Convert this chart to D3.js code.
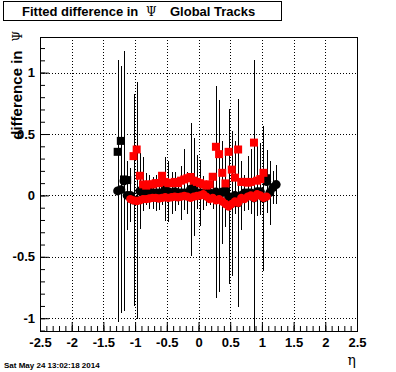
<!DOCTYPE html>
<html>
<head>
<meta charset="utf-8">
<script src="https://cdn.jsdelivr.net/npm/d3@7"></script>
<style>
body { margin: 0; background: #fff; }
text { font-family: "Liberation Sans", Arial, sans-serif; }
.tick text { font-weight: bold; font-size: 13px; fill: #000; }
.greek { font-family: "DejaVu Serif", "Liberation Serif", serif; font-weight: normal; }
</style>
</head>
<body>
<div class="graphic"></div>
<script>
// eta bin centres
var etaBins = [-1.275,-1.225,-1.175,-1.125,-1.075,-1.025,-0.975,-0.925,-0.875,-0.825,
    -0.775,-0.725,-0.675,-0.625,-0.575,-0.525,-0.475,-0.425,-0.375,-0.325,
    -0.275,-0.225,-0.175,-0.125,-0.075,-0.025,0.025,0.075,0.125,0.175,
    0.225,0.275,0.325,0.375,0.425,0.475,0.525,0.575,0.625,0.675,
    0.725,0.775,0.825,0.875,0.925,0.975,1.025,1.075,1.125,1.175,
    1.225,1.275]

var blackCircleVal = [0.037,0.047,0.118,0.0,0.0,-0.037,-0.04,0.035,0.02,0.05,
    0.03,0.02,0.02,0.02,0.02,0.054,0.03,0.02,0.03,0.02,
    0.02,0.02,0.02,0.05,0.066,0.02,0.02,0.02,0.01,0.02,
    0.01,0.028,-0.007,0.027,0.04,-0.01,-0.063,0.0,-0.06,0.0,
    0.02,0.02,0.02,-0.02,0.03,0.03,-0.022,0.113,0.023,0.064,
    0.088,null]
var blackCircleErr = [1.065,1.005,1.057,0.28,0.22,0.86,0.965,0.31,0.10,0.13,
    0.14,0.13,0.15,0.14,0.10,0.26,0.25,0.17,0.16,0.10,
    0.22,0.10,0.17,0.54,0.40,0.10,0.27,0.14,0.10,0.10,
    0.12,0.86,0.78,0.42,0.30,0.71,0.59,0.10,0.845,0.28,
    0.15,0.10,0.10,1.12,0.10,0.10,0.59,0.255,0.26,0.135,
    0.16,null]
var blackSquareVal = [0.355,0.444,0.13,0.125,null,null,null,null,null,null,
    null,null,null,null,null,null,null,null,null,null,
    null,null,null,null,null,null,null,null,null,null,
    null,null,null,null,null,null,null,null,null,null,
    null,null,null,null,null,null,null,0.14,null,null,
    null,null]
var redSquareVal = [null,null,null,null,null,0.32,0.374,0.16,0.09,0.08,
    0.09,0.09,0.10,0.10,0.16,0.11,0.10,0.10,0.11,0.10,
    0.12,0.13,0.14,0.15,0.12,0.11,0.10,0.09,0.08,0.09,
    0.152,0.396,0.336,0.184,0.098,0.355,0.21,0.145,0.374,0.11,
    0.11,0.104,0.11,0.43,0.12,0.133,0.184,null,null,null,
    null,null]
var redSquareErr = [null,null,null,null,null,null,null,null,0.22,null,
    null,null,null,null,null,null,null,null,null,null,
    null,0.25,null,null,null,0.22,null,null,null,null,
    null,null,null,null,null,null,null,0.30,null,null,
    null,0.22,0.265,null,0.285,0.29,null,null,null,null,
    null,null]
var redCircleVal = [null,null,null,null,-0.03,-0.04,-0.045,-0.04,-0.03,-0.03,
    -0.025,-0.02,-0.02,-0.025,-0.02,-0.015,-0.02,-0.015,-0.01,-0.015,
    -0.01,-0.005,-0.01,-0.02,-0.01,-0.005,0.0,0.01,-0.01,-0.03,
    -0.02,-0.04,-0.03,-0.05,-0.07,-0.09,-0.07,-0.05,-0.06,-0.02,
    -0.03,-0.01,0.0,-0.02,0.01,0.0,-0.02,-0.01,null,null,
    null,null]

var xMajorTicks = [-2.5,-2,-1.5,-1,-0.5,0,0.5,1,1.5,2,2.5]
var yMajorTicks = [-1,-0.5,0,0.5,1]

var width = 396, height = 372
var margin = {top: 37, right: 39, bottom: 41, left: 40}
var plotW = width - margin.left - margin.right
var plotH = height - margin.top - margin.bottom

var svg = d3.select('.graphic').append('svg')
    .attr('width', width)
    .attr('height', height)
    .style('display', 'block')

svg.append('rect').attr('width', width).attr('height', height).attr('fill', '#fff')

var x = d3.scaleLinear().domain([-2.5, 2.5]).range([0, plotW])
var y = d3.scaleLinear().domain([-1.104, 1.29]).range([plotH, 0])

var chart = svg.append('g')
    .attr('transform', 'translate(' + margin.left + ',' + margin.top + ')')

svg.append('defs').append('clipPath').attr('id', 'frame')
    .append('rect').attr('width', plotW).attr('height', plotH)

// dotted grid
chart.selectAll('.gx').data(xMajorTicks.slice(1, -1)).enter().append('line')
    .attr('x1', d => Math.round(x(d)) + 0.5).attr('x2', d => Math.round(x(d)) + 0.5)
    .attr('y1', 0).attr('y2', plotH)
    .attr('stroke', '#000').attr('stroke-dasharray', '1,2')
chart.selectAll('.gy').data(yMajorTicks).enter().append('line')
    .attr('x1', 0).attr('x2', plotW)
    .attr('y1', d => Math.round(y(d)) + 0.5).attr('y2', d => Math.round(y(d)) + 0.5)
    .attr('stroke', '#000').attr('stroke-dasharray', '1,2')

function fmt(d) { return String(d) }

var minorX = d3.range(-25, 26).map(d => d / 10)
var minorY = d3.range(-11, 13).map(d => d / 10)

chart.append('g').attr('transform', 'translate(0,' + plotH + ')')
    .call(d3.axisBottom(x).tickValues(xMajorTicks).tickFormat(fmt).tickSize(-9).tickPadding(7))
chart.append('g').attr('transform', 'translate(0,' + plotH + ')')
    .call(d3.axisBottom(x).tickValues(minorX).tickFormat('').tickSize(-5))
chart.append('g')
    .call(d3.axisLeft(y).tickValues(yMajorTicks).tickFormat(fmt).tickSize(-9).tickPadding(5))
chart.append('g')
    .call(d3.axisLeft(y).tickValues(minorY).tickFormat('').tickSize(-5))
chart.selectAll('.domain').remove()
chart.selectAll('.tick line').attr('stroke', '#000')

var pts = chart.append('g').attr('clip-path', 'url(#frame)')

function series(vals) {
    return etaBins.map((e, i) => ({eta: e, v: vals[i], i: i})).filter(d => d.v != null)
}

function errBars(vals, errs) {
    pts.append('g').selectAll('line')
        .data(series(vals).filter(d => errs[d.i] != null))
        .enter().append('line')
        .attr('x1', d => Math.round(x(d.eta)) + 0.5).attr('x2', d => Math.round(x(d.eta)) + 0.5)
        .attr('y1', d => y(d.v + errs[d.i]))
        .attr('y2', d => y(d.v - errs[d.i]))
        .attr('stroke', '#000').attr('stroke-width', 1)
        .attr('shape-rendering', 'crispEdges')
}
errBars(blackCircleVal, blackCircleErr)
errBars(redSquareVal, redSquareErr)

pts.selectAll('.bc').data(series(blackCircleVal)).enter().append('circle')
    .attr('cx', d => x(d.eta)).attr('cy', d => y(d.v)).attr('r', 4.5)
    .attr('fill', '#000')
pts.selectAll('.bs').data(series(blackSquareVal)).enter().append('rect')
    .attr('x', d => x(d.eta) - 4).attr('y', d => y(d.v) - 4)
    .attr('width', 8).attr('height', 8).attr('fill', '#000')
pts.selectAll('.rs').data(series(redSquareVal)).enter().append('rect')
    .attr('x', d => x(d.eta) - 4).attr('y', d => y(d.v) - 4)
    .attr('width', 8).attr('height', 8).attr('fill', '#ff0000')
pts.selectAll('.rc').data(series(redCircleVal)).enter().append('circle')
    .attr('cx', d => x(d.eta)).attr('cy', d => y(d.v)).attr('r', 4.2)
    .attr('fill', '#ff0000')

// frame
chart.append('rect').attr('x', 0.5).attr('y', 0.5).attr('width', plotW).attr('height', plotH)
    .attr('fill', 'none').attr('stroke', '#000').attr('stroke-width', 1)

// title box
svg.append('rect').attr('x', 3.5).attr('y', 1.5).attr('width', 278).attr('height', 19)
    .attr('fill', '#fff').attr('stroke', '#000')
var title = svg.append('g').style('font-weight', 'bold').style('font-size', '13px')
title.append('text').attr('x', 22).attr('y', 16).text('Fitted difference in')
title.append('text').attr('class', 'greek').attr('x', 146).attr('y', 16)
    .style('font-size', '12px').text('Ψ')
title.append('text').attr('x', 170).attr('y', 16).text('Global Tracks')

// y title
var ytitle = svg.append('text')
    .attr('transform', 'translate(22,31) rotate(-90)')
    .attr('text-anchor', 'end')
    .style('font-weight', 'bold').style('font-size', '15px')
ytitle.append('tspan').text('difference in')
ytitle.append('tspan').attr('class', 'greek').attr('dx', 9).style('font-size', '12px').text('Ψ')

// x title
svg.append('text').attr('class', 'greek').attr('x', 356).attr('y', 365)
    .attr('text-anchor', 'end').style('font-size', '14px').text('η')

// date stamp
svg.append('text').attr('x', 4).attr('y', 368)
    .style('font-weight', 'bold').style('font-size', '8px')
    .text('Sat May 24 13:02:18 2014')
</script>
</body>
</html>
